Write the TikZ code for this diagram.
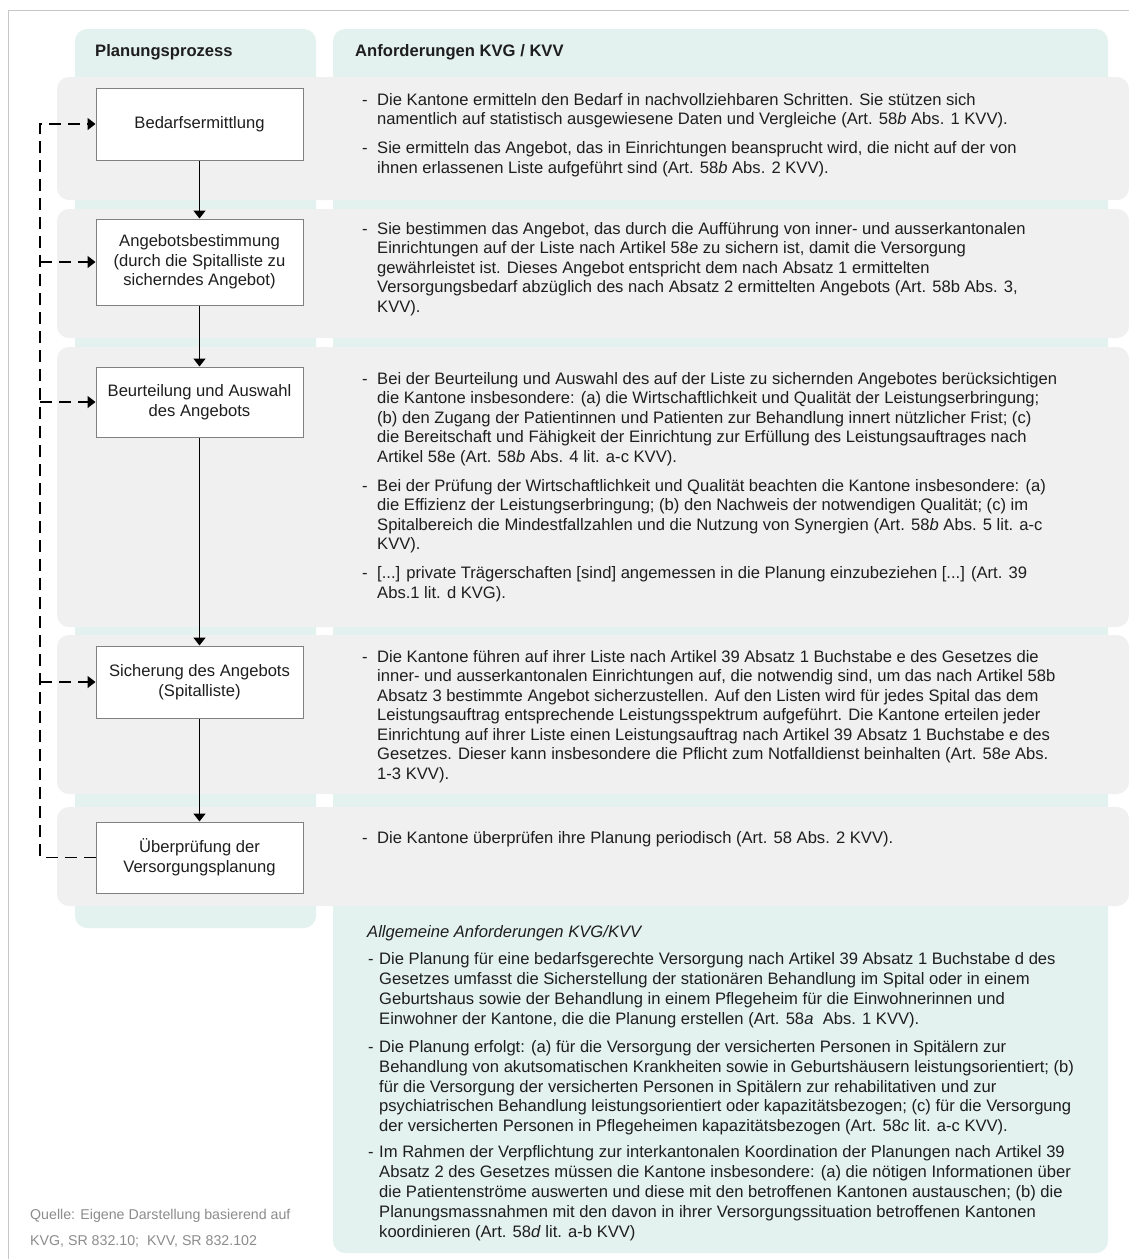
\documentclass[tikz,border=0pt]{standalone}
\usepackage{fontspec}
\setmainfont{Liberation Sans}
\usetikzlibrary{arrows.meta}
\definecolor{colteal}{RGB}{228,242,239}
\definecolor{rowgray}{RGB}{240,240,240}
\definecolor{framegray}{RGB}{198,198,198}
\definecolor{boxline}{RGB}{128,128,128}
\definecolor{srcgray}{RGB}{140,140,140}
\definecolor{ink}{RGB}{30,30,30}
\newcommand{\bul}[1]{\llap{-\hspace{#1}}\strut}
\begin{document}
\begin{tikzpicture}[x=1pt,y=-1pt,
  column/.style={fill=colteal, rounded corners=12pt},
  band/.style={fill=rowgray, rounded corners=12pt},
  stepbox/.style={draw=boxline, line width=1pt, fill=white, minimum width=207pt,
    align=center, inner sep=0pt, text=ink, font=\fontsize{16.6}{19.5}\selectfont},
  flow/.style={line width=1.7pt, -{Triangle[width=12pt,length=8pt]}},
  loop/.style={line width=1.7pt, dash pattern=on 12pt off 7pt},
  loopin/.style={loop, -{Triangle[width=12pt,length=8pt]}},
  reqtext/.style={anchor=north west, inner sep=0pt, align=left, text=ink,
    font=\fontsize{16.6}{19.5}\selectfont},
  gentext/.style={reqtext, font=\fontsize{16.6}{19.9}\selectfont},
  head/.style={anchor=base west, inner sep=0pt, text=ink,
    font=\bfseries\fontsize{16.6}{19.5}\selectfont},
  source/.style={anchor=base west, inner sep=0pt, text=srcgray,
    font=\fontsize{14.2}{18}\selectfont},
]
\useasboundingbox (0,0) rectangle (1129,1259);
\fill[white] (0,0) rectangle (1129,1259);

% outer frame
\draw[framegray, line width=1.5pt] (8.5,1262) -- (8.5,10.5) -- (1132,10.5);

% column backgrounds
\fill[column] (75,29) rectangle (316,928);
\fill[column] (333,29) rectangle (1108,1253);

% row bands
\fill[band] (57,77)  rectangle (1129,200);
\fill[band] (57,209) rectangle (1129,338);
\fill[band] (57,347) rectangle (1129,627);
\fill[band] (57,635) rectangle (1129,794);
\fill[band] (57,807) rectangle (1129,906);

% headers
\node[head] (hproc) at (95,56) {Planungsprozess};
\node[head] (hreq) at (355,56) {Anforderungen KVG / KVV};

% process steps
\node[stepbox, minimum height=72pt] (B1) at (199.5,124) {Bedarfsermittlung};
\node[stepbox, minimum height=86pt] (B2) at (199.5,262) {Angebotsbestimmung\\(durch die Spitalliste zu\\sicherndes Angebot)};
\node[stepbox, minimum height=70pt] (B3) at (199.5,402) {Beurteilung und Auswahl\\des Angebots};
\node[stepbox, minimum height=72pt] (B4) at (199.5,682) {Sicherung des Angebots\\(Spitalliste)};
\node[stepbox, minimum height=71pt] (B5) at (199.5,857.5) {Überprüfung der\\Versorgungsplanung};

\draw[flow] (B1) -- (B2);
\draw[flow] (B2) -- (B3);
\draw[flow] (B3) -- (B4);
\draw[flow] (B4) -- (B5);

% feedback loop
\coordinate (lb) at (40,857.5);
\coordinate (lt) at (40,124);
\coordinate (j2) at (40,262);
\coordinate (j3) at (40,402);
\coordinate (j4) at (40,682);
\draw[loopin] (B5.west) -- (lb) -- (lt) -- (B1.west);
\draw[loopin] (j2) -- (B2.west);
\draw[loopin] (j3) -- (B3.west);
\draw[loopin] (j4) -- (B4.west);

% requirements per step
\node[reqtext] (R1) at (377,91.5) {\bul{9.5pt}Die Kantone ermitteln den Bedarf in nachvollziehbaren Schritten. Sie stützen sich\\
namentlich auf statistisch ausgewiesene Daten und Vergleiche (Art. 58\textit{b} Abs. 1 KVV).\\[9.5pt]
\bul{9.5pt}Sie ermitteln das Angebot, das in Einrichtungen beansprucht wird, die nicht auf der von\\
ihnen erlassenen Liste aufgeführt sind (Art. 58\textit{b} Abs. 2 KVV).};

\node[reqtext] (R2) at (377,220.5) {\bul{9.5pt}Sie bestimmen das Angebot, das durch die Aufführung von inner- und ausserkantonalen\\
Einrichtungen auf der Liste nach Artikel 58\textit{e} zu sichern ist, damit die Versorgung\\
gewährleistet ist. Dieses Angebot entspricht dem nach Absatz 1 ermittelten\\
Versorgungsbedarf abzüglich des nach Absatz 2 ermittelten Angebots (Art. 58b Abs. 3,\\
KVV).};

\node[reqtext] (R3) at (377,370.5) {\bul{9.5pt}Bei der Beurteilung und Auswahl des auf der Liste zu sichernden Angebotes berücksichtigen\\
die Kantone insbesondere: (a) die Wirtschaftlichkeit und Qualität der Leistungserbringung;\\
(b) den Zugang der Patientinnen und Patienten zur Behandlung innert nützlicher Frist; (c)\\
die Bereitschaft und Fähigkeit der Einrichtung zur Erfüllung des Leistungsauftrages nach\\
Artikel 58e (Art. 58\textit{b} Abs. 4 lit. a-c KVV).\\[9.5pt]
\bul{9.5pt}Bei der Prüfung der Wirtschaftlichkeit und Qualität beachten die Kantone insbesondere: (a)\\
die Effizienz der Leistungserbringung; (b) den Nachweis der notwendigen Qualität; (c) im\\
Spitalbereich die Mindestfallzahlen und die Nutzung von Synergien (Art. 58\textit{b} Abs. 5 lit. a-c\\
KVV).\\[9.5pt]
\bul{9.5pt}[...] private Trägerschaften [sind] angemessen in die Planung einzubeziehen [...] (Art. 39\\
Abs.1 lit. d KVG).};

\node[reqtext] (R4) at (377,648.5) {\bul{9.5pt}Die Kantone führen auf ihrer Liste nach Artikel 39 Absatz 1 Buchstabe e des Gesetzes die\\
inner- und ausserkantonalen Einrichtungen auf, die notwendig sind, um das nach Artikel 58b\\
Absatz 3 bestimmte Angebot sicherzustellen. Auf den Listen wird für jedes Spital das dem\\
Leistungsauftrag entsprechende Leistungsspektrum aufgeführt. Die Kantone erteilen jeder\\
Einrichtung auf ihrer Liste einen Leistungsauftrag nach Artikel 39 Absatz 1 Buchstabe e des\\
Gesetzes. Dieser kann insbesondere die Pflicht zum Notfalldienst beinhalten (Art. 58\textit{e} Abs.\\
1-3 KVV).};

\node[reqtext] (R5) at (377,829.5) {\bul{9.5pt}Die Kantone überprüfen ihre Planung periodisch (Art. 58 Abs. 2 KVV).};

% general requirements
\node[reqtext, font=\itshape\fontsize{16.6}{19.9}\selectfont] (G0) at (367,923.5) {\strut Allgemeine Anforderungen KVG/KVV};
\node[gentext] (G1) at (379,950.5) {\bul{5.5pt}Die Planung für eine bedarfsgerechte Versorgung nach Artikel 39 Absatz 1 Buchstabe d des\\
Gesetzes umfasst die Sicherstellung der stationären Behandlung im Spital oder in einem\\
Geburtshaus sowie der Behandlung in einem Pflegeheim für die Einwohnerinnen und\\
Einwohner der Kantone, die die Planung erstellen (Art. 58\textit{a}\ \ Abs. 1 KVV).\\[8pt]
\bul{5.5pt}Die Planung erfolgt: (a) für die Versorgung der versicherten Personen in Spitälern zur\\
Behandlung von akutsomatischen Krankheiten sowie in Geburtshäusern leistungsorientiert; (b)\\
für die Versorgung der versicherten Personen in Spitälern zur rehabilitativen und zur\\
psychiatrischen Behandlung leistungsorientiert oder kapazitätsbezogen; (c) für die Versorgung\\
der versicherten Personen in Pflegeheimen kapazitätsbezogen (Art. 58\textit{c} lit. a-c KVV).\\[6pt]
\bul{5.5pt}Im Rahmen der Verpflichtung zur interkantonalen Koordination der Planungen nach Artikel 39\\
Absatz 2 des Gesetzes müssen die Kantone insbesondere: (a) die nötigen Informationen über\\
die Patientenströme auswerten und diese mit den betroffenen Kantonen austauschen; (b) die\\
Planungsmassnahmen mit den davon in ihrer Versorgungssituation betroffenen Kantonen\\
koordinieren (Art. 58\textit{d} lit. a-b KVV)};

% source
\node[source] (src1) at (30,1219) {Quelle: Eigene Darstellung basierend auf};
\node[source] (src2) at (30,1245) {KVG, SR 832.10;\ \ KVV, SR 832.102};
\end{tikzpicture}
\end{document}
